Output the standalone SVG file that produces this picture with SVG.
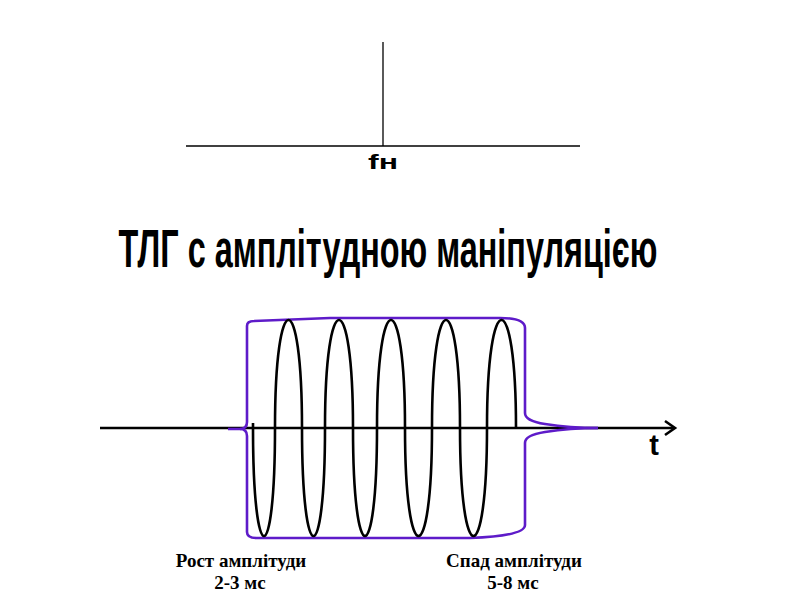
<svg xmlns="http://www.w3.org/2000/svg" width="800" height="600" viewBox="0 0 800 600">
<style>
.ln{stroke:#000;stroke-width:1.3;fill:none}
.ax{stroke:#000;stroke-width:2.6;fill:none}
.sig{stroke:#000;stroke-width:2.6;fill:none;stroke-linejoin:round}
.env{stroke:#5E1BC9;stroke-width:2.6;fill:none;stroke-linejoin:round}
.sans{font-family:"Liberation Sans",Arial,sans-serif;font-weight:bold}
.narrow{font-family:"Liberation Sans Narrow","Liberation Sans",Arial,sans-serif;font-weight:bold}
.serif{font-family:"Liberation Serif","Times New Roman",serif;font-weight:bold;font-size:19px}
</style>
<rect width="800" height="600" fill="#fff"/>
<g id="spectrum">
<line class="ln" x1="383" y1="42" x2="383" y2="146"/>
<line class="ln" x1="186" y1="146" x2="580" y2="146"/>
<text class="sans" x="383" y="169" font-size="20" text-anchor="middle" textLength="30" lengthAdjust="spacingAndGlyphs">fн</text>
</g>
<g id="title">
<text class="narrow" transform="translate(388,267) scale(0.6,1)" x="0" y="0" font-size="53" text-anchor="middle" textLength="898" lengthAdjust="spacingAndGlyphs">ТЛГ с амплітудною  маніпуляцією</text>
</g>
<g id="connectors">
<line class="ax" x1="100" y1="428" x2="674" y2="428"/>
<polyline class="ax" points="665,421 675,428 665,435"/>
</g>
<g id="envelope">
<path class="env" d="M228,429 L240,429 Q247,429 247,422 L247,326 Q247,321 254,321 L330,318 L500,318 Q525,318 525,328 L525,413 Q525,421 545,424 Q570,428 598,428"/>
<path class="env" d="M240,429 Q247,429 247,436 L247,532 Q247,538 256,538 L470,538 Q525,536 525,525 L525,443 Q525,435 545,432 Q570,428 598,428"/>
</g>
<g id="signal">
<path class="sig" d="M253,423 L253,428 C253,572 275,572 275,428 C275,284 302,284 302,428 C302,572 325,572 325,428 C325,284 353,284 353,428 C353,572 377,572 377,428 C377,284 405,284 405,428 C405,572 432,572 432,428 C432,284 460,284 460,428 C460,572 487,572 487,428 C487,284 516,284 516,428"/>
</g>
<g id="t-label">
<text class="sans" x="654" y="455" font-size="29" text-anchor="middle">t</text>
</g>
<g id="labels">
<text class="serif" x="241" y="567" text-anchor="middle">Рост амплітуди</text>
<text class="serif" x="240" y="589" text-anchor="middle">2-3 мс</text>
<text class="serif" x="514" y="567" text-anchor="middle">Спад амплітуди</text>
<text class="serif" x="513" y="589" text-anchor="middle">5-8 мс</text>
</g>
</svg>
